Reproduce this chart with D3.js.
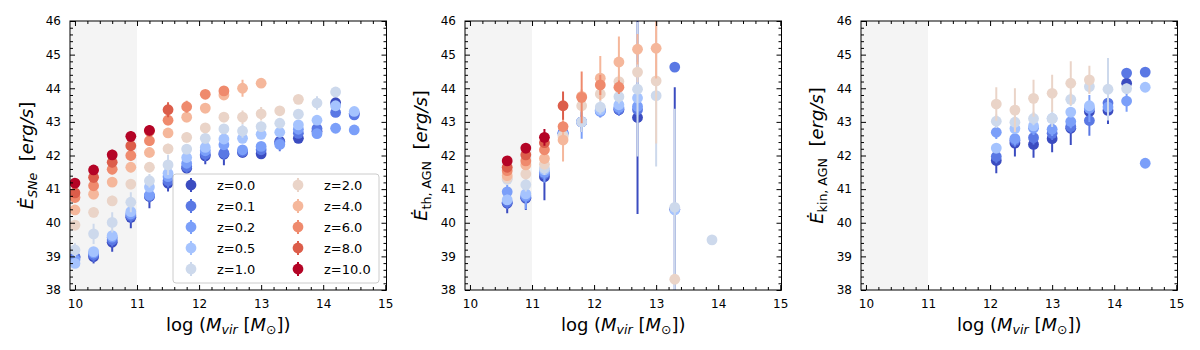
<!DOCTYPE html>
<html>
<head>
<meta charset="utf-8">
<script src="https://cdn.jsdelivr.net/npm/d3@7"></script>
<style>
  body { margin: 0; background: #fff; }
  svg text { font-family: 'DejaVu Sans', sans-serif; fill: #000; }
</style>
</head>
<body>
<svg id="chart" width="1200" height="350"></svg>
<script>
// halo mass bins, log(Mvir)
const massBins = [10.0, 10.3, 10.6, 10.9, 11.2, 11.5, 11.8, 12.1, 12.4, 12.7, 13.0, 13.3, 13.6, 13.9, 14.2, 14.5]
const redshifts = ['z=0.0', 'z=0.1', 'z=0.2', 'z=0.5', 'z=1.0', 'z=2.0', 'z=4.0', 'z=6.0', 'z=8.0', 'z=10.0']
const zColors = ['#3b4cc0', '#5a78e4', '#7b9ff9', '#a5c3fe', '#cdd9ec', '#ead4c8', '#f5b79b', '#ef8a6d', '#dc5d4a', '#b40426']
const xTicks = [10, 11, 12, 13, 14, 15]
const yTicks = [38, 39, 40, 41, 42, 43, 44, 45, 46]

const _ = null

// SNe energy rate, one row per redshift
const sneValues = [
  [38.98, 38.99, 39.42, 40.16, 40.78, 41.18, 41.62, 41.99, 42.04, 42.09, 42.05, 42.42, 42.51, 42.72, 43.57, 43.25],
  [38.98, 39.04, 39.49, 40.21, 40.80, 41.25, 41.67, 42.04, 42.07, 42.12, 42.17, 42.38, 42.66, 42.80, 43.28, 43.21],
  [38.90, 39.10, 39.57, 40.26, 40.82, 41.37, 41.77, 42.14, 42.32, 42.17, 42.27, 42.33, 42.78, 42.65, 42.81, 42.76],
  [38.79, 39.14, 39.62, 40.33, 41.06, 41.47, 41.94, 42.24, 42.49, 42.51, 42.63, 42.69, 42.91, 43.05, 43.48, 43.31],
  [39.19, 39.67, 40.01, 40.61, 41.25, 41.72, 42.19, 42.51, 42.79, 42.73, 42.86, 42.96, 43.23, 43.56, 43.89, _],
  [39.93, 40.31, 40.65, 41.15, 41.65, 42.20, 42.54, 42.82, 43.14, 43.14, 43.24, 43.33, 43.67, _, _, _],
  [40.38, 40.85, 41.21, 41.65, 42.09, 42.67, 43.14, 43.41, 43.80, 44.00, 44.15, _, _, _, _, _],
  [40.75, 41.10, 41.59, 42.00, 42.44, 43.05, 43.45, 43.82, 43.92, _, _, _, _, _, _, _],
  [40.89, 41.35, 41.80, 42.29, 42.72, 43.36, _, _, _, _, _, _, _, _, _, _],
  [41.18, 41.57, 42.02, 42.57, 42.75, _, _, _, _, _, _, _, _, _, _, _]
]
const sneErrors = [
  [0.10, 0.20, 0.28, 0.32, 0.35, 0.25, 0.15, 0.25, 0.33, 0.15, 0.10, 0.15, 0.10, 0.15, 0.10, 0.10],
  [0.10, 0.20, 0.20, 0.20, 0.20, 0.20, 0.20, 0.20, 0.20, 0.15, 0.15, 0.25, 0.10, 0.15, 0.10, 0.10],
  [0.12, 0.12, 0.12, 0.12, 0.12, 0.12, 0.12, 0.12, 0.12, 0.12, 0.12, 0.12, 0.12, 0.12, 0.12, 0.12],
  [0.12, 0.12, 0.12, 0.12, 0.12, 0.12, 0.12, 0.12, 0.12, 0.12, 0.12, 0.12, 0.12, 0.12, 0.12, 0.12],
  [0.20, 0.30, 0.30, 0.30, 0.20, 0.30, 0.15, 0.15, 0.15, 0.20, 0.15, 0.15, 0.15, 0.20, 0.10, _],
  [0.15, 0.15, 0.15, 0.15, 0.15, 0.15, 0.15, 0.10, 0.15, 0.20, 0.20, 0.10, 0.10, _, _, _],
  [0.15, 0.15, 0.15, 0.15, 0.15, 0.15, 0.15, 0.15, 0.15, 0.25, 0.10, _, _, _, _, _],
  [0.15, 0.15, 0.15, 0.15, 0.15, 0.15, 0.18, 0.10, 0.10, _, _, _, _, _, _, _],
  [0.15, 0.15, 0.15, 0.15, 0.15, 0.22, _, _, _, _, _, _, _, _, _, _],
  [0.15, 0.15, 0.15, 0.15, 0.15, _, _, _, _, _, _, _, _, _, _, _]
]

// thermal AGN energy rate
const thValues = [
  [_, _, 40.58, 40.73, 41.37, 42.66, 43.00, 43.35, 43.36, 43.13, _, 40.40, _, _, _, _],
  [_, _, 40.61, 40.76, 41.45, 42.68, 43.00, 43.33, 43.38, 43.36, _, 44.63, _, _, _, _],
  [_, _, 40.92, 40.80, 41.50, 42.66, 43.00, 43.31, 43.43, 43.46, _, _, _, _, _, _],
  [_, _, 40.68, 40.86, 41.57, 42.62, 43.00, 43.35, 43.51, 43.71, _, 40.38, _, _, _, _],
  [_, _, 41.29, 41.13, 41.62, 42.60, 43.00, 43.44, 43.75, 43.97, 43.78, 40.46, _, 39.49, _, _],
  [_, _, 41.33, 41.45, 41.74, 42.55, 43.48, 43.83, 44.20, 44.48, 44.22, 38.32, _, _, _, _],
  [_, _, 41.40, 41.72, 41.91, 42.46, 43.76, 44.30, 44.78, 45.16, 45.19, _, _, _, _, _],
  [_, _, 41.55, 41.84, 42.17, 42.86, 43.73, 44.10, 44.03, _, _, _, _, _, _, _],
  [_, _, 41.65, 42.02, 42.38, 43.48, _, _, _, _, _, _, _, _, _, _],
  [_, _, 41.84, 42.22, 42.54, _, _, _, _, _, _, _, _, _, _, _]
]
const thErrors = [
  [_, _, 0.30, 0.35, 0.70, 0.20, 0.30, 0.20, 0.15, 2.87, _, 3.63, _, _, _, _],
  [_, _, 0.20, 0.20, 0.20, 0.20, 0.20, 0.20, 0.20, 0.20, _, 0.00, _, _, _, _],
  [_, _, 0.20, 0.40, 0.30, 0.20, 0.50, 0.15, 0.20, 0.20, _, _, _, _, _, _],
  [_, _, 0.15, 0.15, 0.15, 0.15, 0.15, 0.15, 0.15, 0.15, _, 0.15, _, _, _, _],
  [_, _, 0.15, 0.20, 0.20, 0.20, 0.30, 0.20, 0.20, 2.00, 2.11, 2.93, _, 0.00, _, _],
  [_, _, 0.10, 0.10, 0.10, 0.20, 0.20, 0.20, 0.20, 0.30, 1.86, 0.10, _, _, _, _],
  [_, _, 0.15, 0.15, 0.15, 0.64, 0.20, 0.66, 0.76, 0.45, 0.90, _, _, _, _, _],
  [_, _, 0.15, 0.15, 0.15, 0.15, 0.77, 0.30, 0.20, _, _, _, _, _, _, _],
  [_, _, 0.10, 0.10, 0.15, 0.42, _, _, _, _, _, _, _, _, _, _],
  [_, _, 0.10, 0.15, 0.25, _, _, _, _, _, _, _, _, _, _, _]
]

// kinetic AGN energy rate
const kinValues = [
  [_, _, _, _, _, _, _, 41.85, 42.37, 42.33, 42.50, 42.81, 43.31, 43.34, 44.15, _],
  [_, _, _, _, _, _, _, 41.97, 42.45, 42.53, 42.66, 42.86, 43.04, 43.56, 44.45, 44.48],
  [_, _, _, _, _, _, _, 42.69, 42.50, 42.81, 42.78, 43.01, 43.40, 43.44, 43.62, 41.77],
  [_, _, _, _, _, _, _, 42.22, 42.80, 42.88, 43.10, 43.29, 43.48, _, _, 44.03],
  [_, _, _, _, _, _, _, 43.02, 42.99, 43.10, 43.10, 43.67, 44.05, 43.97, 43.99, _],
  [_, _, _, _, _, _, _, 43.53, 43.35, 43.70, 43.85, 44.15, 44.25, _, _, _],
  [], [], [], []
]
const kinErrors = [
  [_, _, _, _, _, _, _, 0.38, 0.40, 0.40, 0.40, 0.50, 0.20, 0.40, 0.10, _],
  [_, _, _, _, _, _, _, 0.20, 0.20, 0.20, 0.20, 0.20, 0.45, 0.20, 0.10, 0.05],
  [_, _, _, _, _, _, _, 0.20, 0.20, 0.20, 0.20, 0.20, 0.40, 0.20, 0.32, 0.00],
  [_, _, _, _, _, _, _, 0.15, 0.15, 0.15, 0.15, 0.15, 0.15, _, _, 0.05],
  [_, _, _, _, _, _, _, 0.20, 0.20, 0.20, 0.25, 0.20, 0.20, 0.93, 0.15, _],
  [_, _, _, _, _, _, _, 0.50, 0.65, 0.55, 0.55, 0.65, 0.42, _, _, _],
  [], [], [], []
]

const panels = [
  { left: 70, values: sneValues, errors: sneErrors, sub: 'SNe', subItalic: true, labelX: 33 },
  { left: 465, values: thValues, errors: thErrors, sub: 'th, AGN', subItalic: false, labelX: 427 },
  { left: 861, values: kinValues, errors: kinErrors, sub: 'kin, AGN', subItalic: false, labelX: 823 }
]

const plotW = 316.5
const plotTop = 21
const plotBottom = 290
const labelSize = 18
const subSize = 12.6

const svg = d3.select('#chart')

panels.forEach((p, pi) => {
  const x = d3.scaleLinear().domain([9.92, 15.02]).range([p.left, p.left + plotW])
  const y = d3.scaleLinear().domain([38, 46]).range([plotBottom, plotTop])
  const g = svg.append('g')

  g.append('clipPath').attr('id', `clip${pi}`)
    .append('rect')
    .attr('x', p.left).attr('y', plotTop)
    .attr('width', plotW).attr('height', plotBottom - plotTop)

  // resolved-mass shading
  g.append('rect')
    .attr('x', p.left).attr('y', plotTop)
    .attr('width', x(11) - p.left).attr('height', plotBottom - plotTop)
    .attr('fill', '#f4f4f4')

  const plot = g.append('g').attr('clip-path', `url(#clip${pi})`)

  p.values.forEach((row, zi) => {
    const pts = massBins.map((m, i) => ({ m, v: row[i], e: p.errors[zi][i] }))
      .filter(d => d.v != null)
    const s = plot.append('g')
    s.selectAll('line').data(pts.filter(d => d.e > 0))
      .enter().append('line')
      .attr('x1', d => x(d.m)).attr('x2', d => x(d.m))
      .attr('y1', d => y(d.v - d.e)).attr('y2', d => y(d.v + d.e))
      .attr('stroke', zColors[zi])
      .attr('stroke-width', 2)
    s.selectAll('circle').data(pts)
      .enter().append('circle')
      .attr('cx', d => x(d.m)).attr('cy', d => y(d.v))
      .attr('r', 5.4)
      .attr('fill', zColors[zi])
  })

  // axes: inward ticks on all four sides
  const minorX = d3.range(10, 15.01, 0.2).filter(v => Math.abs(v - Math.round(v)) > 0.01)
  const minorY = d3.range(38, 46.01, 0.2).filter(v => Math.abs(v - Math.round(v)) > 0.01)
  const sides = [
    { make: d3.axisBottom, s: x, at: `translate(0,${plotBottom})`, major: xTicks, minor: minorX, labels: true },
    { make: d3.axisTop, s: x, at: `translate(0,${plotTop})`, major: xTicks, minor: minorX, labels: false },
    { make: d3.axisLeft, s: y, at: `translate(${p.left},0)`, major: yTicks, minor: minorY, labels: true },
    { make: d3.axisRight, s: y, at: `translate(${p.left + plotW},0)`, major: yTicks, minor: minorY, labels: false }
  ]

  sides.forEach(side => {
    const ax = side.make(side.s).tickValues(side.major)
      .tickFormat(side.labels ? d3.format('d') : '')
      .tickSizeInner(-5).tickSizeOuter(0).tickPadding(9)
    const a = g.append('g').attr('transform', side.at).call(ax)
    a.select('.domain').remove()
    a.selectAll('text').attr('font-size', 12).attr('fill', '#000')
    a.selectAll('line').attr('stroke', '#000')

    const mAx = side.make(side.s).tickValues(side.minor).tickFormat('')
      .tickSizeInner(-3).tickSizeOuter(0)
    const mA = g.append('g').attr('transform', side.at).call(mAx)
    mA.select('.domain').remove()
    mA.selectAll('line').attr('stroke', '#000')
  })

  g.append('rect')
    .attr('x', p.left).attr('y', plotTop)
    .attr('width', plotW).attr('height', plotBottom - plotTop)
    .attr('fill', 'none').attr('stroke', '#000').attr('stroke-width', 1)

  // x label
  const xl = g.append('text')
    .attr('x', p.left + plotW / 2).attr('y', 331)
    .attr('text-anchor', 'middle').attr('font-size', labelSize)
  xl.append('tspan').text('log (')
  xl.append('tspan').attr('font-style', 'italic').text('M')
  xl.append('tspan').attr('font-style', 'italic').attr('font-size', subSize).attr('dy', 3).text('vir')
  xl.append('tspan').attr('dy', -3).text('\u00a0[')
  xl.append('tspan').attr('font-style', 'italic').text('M')
  xl.append('tspan').attr('font-size', subSize).attr('dy', 3).text('\u2299')
  xl.append('tspan').attr('dy', -3).text('])')

  // y label
  const yl = g.append('text')
    .attr('transform', `translate(${p.labelX},${(plotTop + plotBottom) / 2}) rotate(-90)`)
    .attr('text-anchor', 'middle').attr('font-size', labelSize)
  yl.append('tspan').attr('font-style', 'italic').text('\u0116')
  yl.append('tspan').attr('font-style', p.subItalic ? 'italic' : 'normal')
    .attr('font-size', subSize).attr('dy', 3.5).text(p.sub)
  yl.append('tspan').attr('dy', -3.5).text('\u00a0\u00a0[')
  yl.append('tspan').attr('font-style', 'italic').text('erg/s')
  yl.append('tspan').text(']')
})

// legend, first panel
const legend = svg.append('g')
legend.append('rect')
  .attr('x', 173).attr('y', 174).attr('width', 206).attr('height', 109)
  .attr('rx', 3)
  .attr('fill', '#fff').attr('fill-opacity', 0.8)
  .attr('stroke', '#ccc')

redshifts.forEach((label, i) => {
  const col = Math.floor(i / 5)
  const row = i % 5
  const mx = col === 0 ? 191 : 298
  const my = 185 + row * 21
  const item = legend.append('g')
  item.append('line')
    .attr('x1', mx).attr('x2', mx).attr('y1', my - 7).attr('y2', my + 7)
    .attr('stroke', zColors[i]).attr('stroke-width', 2)
  item.append('circle')
    .attr('cx', mx).attr('cy', my).attr('r', 5.4)
    .attr('fill', zColors[i])
  item.append('text')
    .attr('x', mx + 26).attr('y', my + 4.5)
    .attr('font-size', 13)
    .text(label)
})
</script>
</body>
</html>
